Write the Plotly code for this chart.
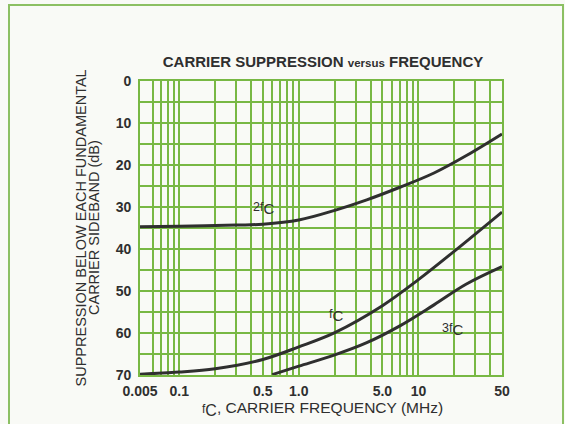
import math
import plotly.graph_objects as go

# ---- data (frequency in MHz, suppression in dB) ----
freq_2fc = [0.005, 0.1, 0.3, 0.5, 1.0, 2.0, 3.7, 7.0, 13.5, 25.0, 50.0]
db_2fc = [34.7, 34.6, 34.3, 34.1, 33.1, 30.8, 28.3, 25.3, 21.9, 17.8, 12.6]

freq_fc = [0.005, 0.1, 0.2, 0.5, 1.0, 2.0, 5.0, 10.0, 20.0, 50.0]
db_fc = [69.8, 69.3, 68.5, 66.3, 63.3, 59.9, 53.5, 47.3, 40.5, 31.2]

freq_3fc = [0.6, 1.0, 2.0, 3.7, 7.0, 13.5, 25.0, 50.0]
db_3fc = [69.9, 67.9, 65.2, 62.3, 58.3, 53.3, 48.4, 44.2]

x_tick_values = [0.005, 0.1, 0.5, 1.0, 5.0, 10, 50]
x_tick_labels = ["0.005", "0.1", "0.5", "1.0", "5.0", "10", "50"]
y_tick_values = [0, 10, 20, 30, 40, 50, 60, 70]

# the chart's frequency axis is logarithmic above 0.1 MHz, and the decades
# between 0.005 and 0.1 MHz are compressed into a short segment at the left
EDGE = 0.047
K = math.log10(0.1 / EDGE) / math.log10(0.1 / 0.005)


def axis_pos(f):
    return f if f >= 0.1 else 0.1 * (f / 0.1) ** K


grid_x = [0.06, 0.07, 0.08, 0.09] + [m * 0.1 for m in range(1, 10)] + \
    [float(m) for m in range(1, 10)] + [10.0, 20.0, 30.0, 40.0, 50.0]
x_pos_ticks = [axis_pos(v) for v in x_tick_values]
all_x_ticks = sorted(set([round(v, 6) for v in grid_x] + [round(v, 6) for v in x_pos_ticks]))
label_map = {round(p, 6): t for p, t in zip(x_pos_ticks, x_tick_labels)}
all_x_text = [label_map.get(v, "") for v in all_x_ticks]

all_y_ticks = list(range(0, 75, 5))
all_y_text = [str(v) if v in y_tick_values else "" for v in all_y_ticks]

GREEN = "#78b844"
INK = "#2f2f2f"
BG = "#f9faf6"
FONT = "Liberation Sans, Arial, sans-serif"

fig = go.Figure()
for fx, dy in [(freq_2fc, db_2fc), (freq_fc, db_fc), (freq_3fc, db_3fc)]:
    fig.add_trace(go.Scatter(
        x=[axis_pos(f) for f in fx], y=dy, mode="lines",
        line=dict(color=INK, width=3, shape="spline", smoothing=1.0),
        showlegend=False, hoverinfo="skip"))

fig.update_layout(
    width=565, height=424,
    margin=dict(l=140, r=63, t=81, b=49),
    paper_bgcolor=BG, plot_bgcolor=BG,
    font=dict(family=FONT, color=INK, size=13),
    title=dict(
        text="<b>CARRIER SUPPRESSION <span style='font-size:11.5px'>versus</span> FREQUENCY</b>",
        x=(323) / 565, xanchor="center", xref="container", y=1 - 62 / 424, yanchor="middle",
        font=dict(size=15, color=INK, family=FONT)),
)

fig.update_xaxes(
    type="log", range=[math.log10(EDGE), math.log10(50)],
    tickmode="array", tickvals=all_x_ticks, ticktext=all_x_text,
    showgrid=True, gridcolor=GREEN, gridwidth=1.5,
    showline=True, linecolor=GREEN, linewidth=1.6, mirror=True,
    ticks="", zeroline=False,
    tickfont=dict(size=14, color=INK, family=FONT, weight="bold"),
    ticklabelstandoff=2,
)
fig.update_yaxes(
    range=[70, 0], tickmode="array", tickvals=all_y_ticks, ticktext=all_y_text,
    showgrid=True, gridcolor=GREEN, gridwidth=1.5,
    showline=True, linecolor=GREEN, linewidth=1.6, mirror=True,
    ticks="", zeroline=False,
    tickfont=dict(size=14, color=INK, family=FONT, weight="bold"),
    ticklabelstandoff=4,
)


def px_x(px):
    return (px - 140) / 362


def px_y(py):
    return (375 - py) / 294


SMALL = "<span style='font-size:12.5px'>{}</span><sub><span style='font-size:15px'>C</span></sub>"

annos = [
    dict(text=SMALL.format("2f"), x=px_x(263), y=px_y(208), size=13),
    dict(text=SMALL.format("f"), x=px_x(336), y=px_y(315), size=13),
    dict(text=SMALL.format("3f"), x=px_x(452), y=px_y(329), size=13),
    dict(text="<span style='font-size:12px'>f</span><sub><span style='font-size:16px'>C</span></sub>, CARRIER FREQUENCY (MHz)",
         x=px_x(322), y=px_y(409), size=15.5),
    dict(text="SUPPRESSION BELOW EACH FUNDAMENTAL", x=px_x(80.5), y=px_y(228),
         textangle=-90, size=14.5),
    dict(text="CARRIER SIDEBAND (dB)", x=px_x(94), y=px_y(228),
         textangle=-90, size=14.5),
]
for a in annos:
    size = a.pop("size")
    fig.add_annotation(xref="paper", yref="paper", showarrow=False,
                       xanchor="center", yanchor="middle",
                       font=dict(size=size, color=INK, family=FONT), **a)

# green frame around the whole figure
fig.add_shape(type="rect", xref="paper", yref="paper",
              x0=px_x(9), x1=px_x(563), y0=px_y(440), y1=px_y(5),
              line=dict(color="#8cc063", width=2), fillcolor="rgba(0,0,0,0)",
              layer="below")

fig.write_html("out.html",
               config={"displayModeBar": False},
               post_script="document.body.style.margin='0px';document.body.style.overflow='hidden';")
